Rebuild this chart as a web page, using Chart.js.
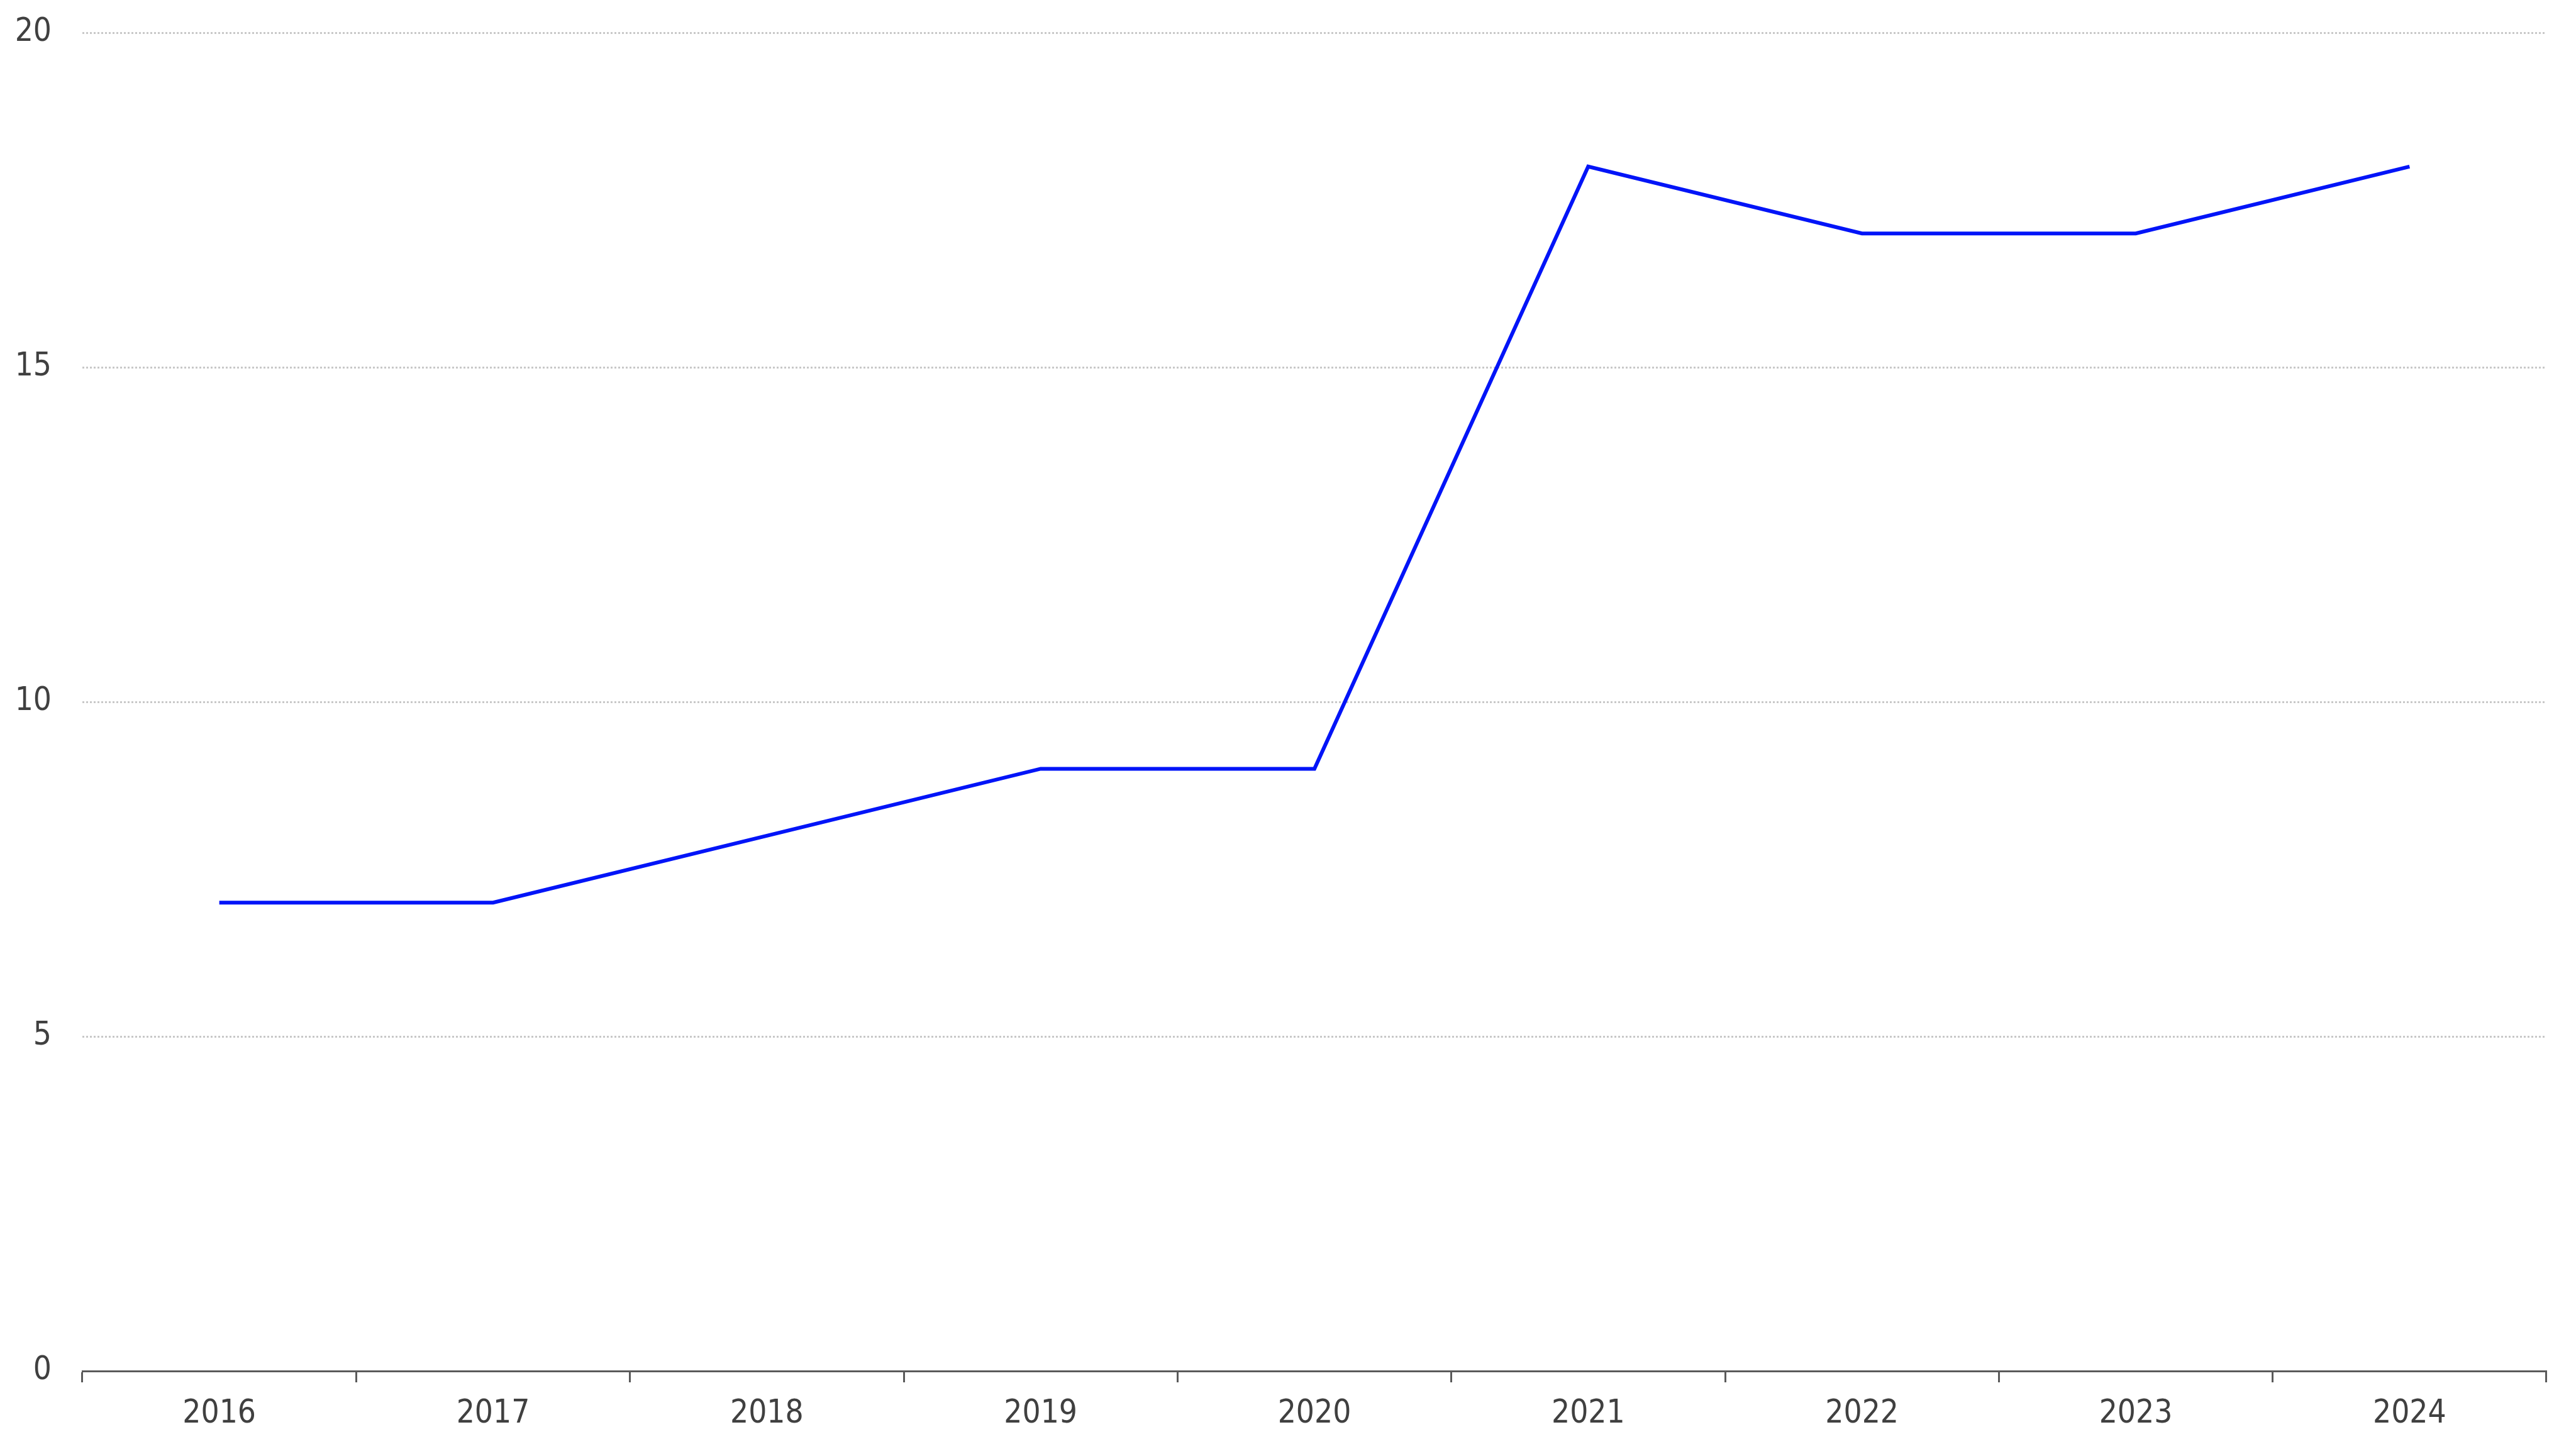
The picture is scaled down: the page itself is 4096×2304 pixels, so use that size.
<!DOCTYPE html>
<html>
<head>
<meta charset="utf-8">
<script src="https://cdn.jsdelivr.net/npm/chart.js@4"></script>
<style>
  html, body { margin: 0; padding: 0; background: #fff; }
  #wrap { width: 4096px; height: 2304px; position: relative; }
</style>
</head>
<body>
<div id="wrap"><canvas id="lineChart"></canvas></div>
<script>
"use strict"
// Data
const years = ["2016", "2017", "2018", "2019", "2020", "2021", "2022", "2023", "2024"];
const values = [7, 7, 8, 9, 9, 18, 17, 17, 18];
const yTicks = [0, 5, 10, 15, 20];

const textColor = "#404040";
const axisColor = "#5a5a5a";
const fontSpec = { family: "'DejaVu Sans Condensed', 'DejaVu Sans', sans-serif", size: 51 };

const ctx = document.getElementById("lineChart");
new Chart(ctx, {
    type: "line",
    data: {
        labels: years,
        datasets: [{
            label: "Value",
            data: values,
            borderColor: "rgb(0, 20, 248)",
            borderWidth: 6,
            pointRadius: 0,
            tension: 0,
            fill: false
        }]
    },
    options: {
        responsive: true,
        maintainAspectRatio: false,
        animation: false,
        layout: { padding: { top: 52, right: 47, left: 0, bottom: 0 } },
        plugins: {
            legend: { display: false },
            tooltip: { enabled: false }
        },
        scales: {
            x: {
                offset: true,
                grid: {
                    offset: true,
                    drawOnChartArea: false,
                    tickLength: 18,
                    tickColor: axisColor,
                    tickWidth: 3
                },
                border: { color: axisColor, width: 3 },
                ticks: { color: textColor, font: fontSpec, padding: 20, maxRotation: 0 },
                afterFit: scale => {
                    scale.height = 124;
                    scale.paddingLeft = 0;
                    scale.paddingRight = 0;
                }
            },
            y: {
                min: 0,
                max: 20,
                afterBuildTicks: scale => { scale.ticks = yTicks.map(v => ({ value: v })); },
                grid: {
                    color: c => c.tick && c.tick.value === 0 ? "rgba(0,0,0,0)" : "#c8c8c8",
                    lineWidth: 3,
                    drawTicks: false,
                    borderDash: [3, 3]
                },
                border: { display: false, dash: [3, 3] },
                ticks: { color: textColor, font: fontSpec, padding: 49 },
                afterFit: scale => {
                    scale.width = 131;
                    scale.paddingTop = 0;
                    scale.paddingBottom = 0;
                }
            }
        }
    }
});
</script>
</body>
</html>
